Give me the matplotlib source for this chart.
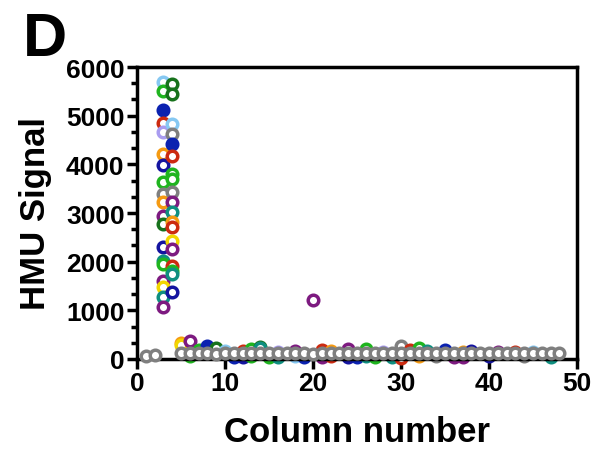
import numpy as np
import matplotlib
matplotlib.use("Agg")
import matplotlib.pyplot as plt
from matplotlib.ticker import MultipleLocator

plt.rcParams['font.family'] = ['Liberation Sans', 'DejaVu Sans']
plt.rcParams['font.weight'] = 'bold'

# colour names used by the plate rows
palette = {
    'lightblue': '#86c8f2', 'green': '#1fb41f', 'darkgreen': '#17721c',
    'blue': '#0b22b0', 'red': '#cc2a10', 'lavender': '#a99cf0',
    'gray': '#7f7f7f', 'orange': '#f59a12', 'navy': '#1414a0',
    'purple': '#7d1a80', 'teal': '#0f8f80', 'yellow': '#f2d600',
}
filled = {'blue'}

# control column 3
col3_sig = [5690, 5500, 5110, 4850, 4660, 4210, 3980, 3630, 3390, 3220,
            2940, 2780, 2300, 2010, 1960, 1600, 1480, 1270, 1070]
col3_clr = ['lightblue', 'green', 'blue', 'red', 'lavender', 'orange', 'navy',
            'green', 'gray', 'orange', 'purple', 'darkgreen', 'navy', 'teal',
            'green', 'purple', 'yellow', 'teal', 'purple']

# control column 4
col4_sig = [5650, 5440, 4820, 4620, 4410, 4170, 3800, 3700, 3430, 3220,
            3020, 2810, 2710, 2420, 2260, 1910, 1800, 1750, 1370]
col4_clr = ['darkgreen', 'darkgreen', 'lightblue', 'gray', 'blue', 'red',
            'green', 'green', 'gray', 'purple', 'teal', 'orange', 'red',
            'yellow', 'purple', 'red', 'green', 'teal', 'navy']

# coloured wells near the baseline (mostly hidden behind the gray row)
low_col = [5, 5, 6, 7, 8, 9, 10, 12, 13, 14, 14, 16, 18, 20, 21, 22, 24, 26,
           28, 30, 31, 32, 33, 35, 37, 38, 41, 43, 45,
           6, 11, 12, 13, 15, 16, 18, 19, 21, 22, 24, 25, 26, 27, 29, 30, 32,
           34, 36, 37, 40, 44, 47]
low_sig = [330, 280, 360, 180, 270, 220, 170, 160, 200, 250, 230, 150, 170,
           1210, 190, 160, 200, 210, 150, 260, 180, 230, 170, 190, 140, 170,
           150, 150, 140,
           60, 40, 50, 60, 40, 50, 60, 40, 50, 60, 40, 50, 60, 40, 50, 30, 60,
           60, 40, 50, 60, 60, 50]
low_clr = ['orange', 'yellow', 'purple', 'green', 'blue', 'darkgreen',
           'lightblue', 'red', 'green', 'darkgreen', 'teal', 'lavender',
           'purple', 'purple', 'red', 'orange', 'purple', 'green', 'lavender',
           'gray', 'red', 'green', 'teal', 'blue', 'orange', 'navy', 'purple',
           'red', 'lightblue',
           'green', 'blue', 'navy', 'green', 'green', 'teal', 'lightblue',
           'blue', 'purple', 'red', 'navy', 'blue', 'teal', 'green', 'teal',
           'red', 'orange', 'gray', 'purple', 'purple', 'navy', 'gray', 'teal']

# gray row drawn on top (columns 3 and 4 are controls)
columns = np.arange(1, 49)
gray_sig = [55, 90, np.nan, np.nan, 120, 115, 125, 120, 110, 120, 115, 125,
            120, 115, 120, 125, 120, 115, 120, 110, 120, 125, 115, 120, 120,
            115, 120, 125, 120, 130, 120, 115, 120, 120, 125, 115, 120, 120,
            115, 120, 120, 125, 115, 120, 120, 115, 120, 120]

fig = plt.figure(figsize=(5.94, 4.52), dpi=100)
ax = fig.add_axes([137 / 594, 1 - 360 / 452, 440 / 594, 292 / 452])

ms, mew = 7.6, 2.5


def dot(x, y, c, z=2):
    face = palette[c] if c in filled else 'white'
    ax.plot(x, y, 'o', ms=ms, mew=mew, mec=palette[c], mfc=face,
            zorder=z, clip_on=False)


for x, y, c in zip(low_col, low_sig, low_clr):
    dot(x, y, c)
for y, c in zip(col3_sig, col3_clr):
    dot(3, y, c, 3)
for y, c in zip(col4_sig, col4_clr):
    dot(4, y, c, 3)
for x, y in zip(columns, gray_sig):
    if not np.isnan(y):
        dot(x, y, 'gray', 4)

ax.set_xlim(0, 50)
ax.set_ylim(0, 6000)
ax.xaxis.set_major_locator(MultipleLocator(10))
ax.yaxis.set_major_locator(MultipleLocator(1000))
ax.yaxis.set_minor_locator(MultipleLocator(1000 / 3))

for s in ax.spines.values():
    s.set_linewidth(2.5)
ax.tick_params(axis='both', which='major', width=2.5, length=7,
               labelsize=19, pad=2)
ax.tick_params(axis='y', which='minor', width=2.5, length=4.5)
for lab in ax.get_xticklabels() + ax.get_yticklabels():
    lab.set_fontweight('bold')

ax.set_xlabel('Column number', fontsize=25, fontweight='bold', labelpad=14)
ax.set_ylabel('HMU Signal', fontsize=25, fontweight='bold', labelpad=10)

fig.text(23 / 594, 1 - 56 / 452, 'D', fontsize=44, fontweight='bold')

fig.savefig('out.png', dpi=100)
